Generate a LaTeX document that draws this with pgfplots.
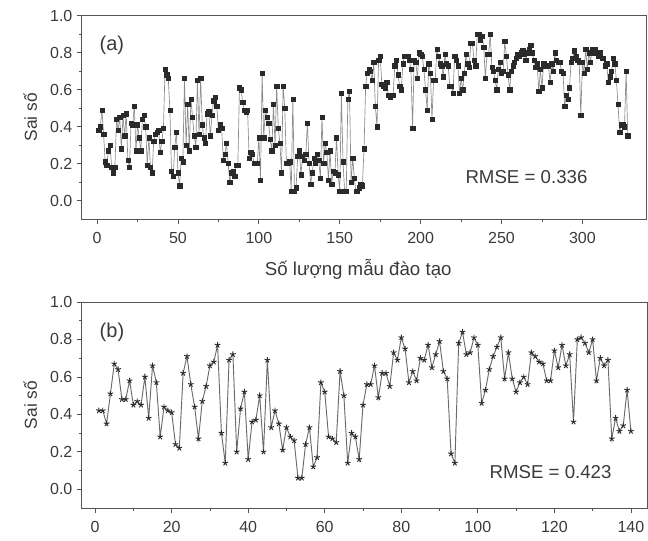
\documentclass[border=0pt]{standalone}
\usepackage{fontspec}
\setmainfont{Liberation Sans}
\usepackage{pgfplots}
\usepackage{pgfplotstable}
\pgfplotsset{compat=1.18}
\definecolor{inkgray}{HTML}{3A3A3A}
\definecolor{axisgray}{HTML}{555555}
\definecolor{markgray}{HTML}{2A2A2A}
\definecolor{linegray}{HTML}{8C8C8C}
\definecolor{starline}{HTML}{6A6A6A}

% panel (a): error per training sample
\pgfplotstableread{
x y
1 0.38
2 0.40
3 0.49
4 0.36
5 0.21
6 0.19
7 0.27
8 0.30
9 0.18
10 0.15
11 0.18
12 0.44
13 0.38
14 0.45
15 0.28
16 0.46
17 0.35
18 0.47
19 0.22
20 0.18
21 0.42
22 0.41
23 0.51
24 0.27
25 0.41
26 0.34
27 0.27
28 0.44
29 0.46
30 0.40
31 0.19
32 0.34
33 0.18
34 0.15
35 0.32
36 0.36
37 0.37
38 0.38
39 0.26
40 0.32
41 0.39
42 0.71
43 0.68
44 0.66
45 0.49
46 0.16
47 0.13
48 0.29
49 0.37
50 0.15
51 0.08
52 0.23
53 0.21
54 0.66
55 0.30
56 0.52
57 0.27
58 0.55
59 0.45
60 0.35
61 0.29
62 0.65
63 0.36
64 0.66
65 0.41
66 0.34
67 0.31
68 0.47
69 0.48
70 0.35
71 0.46
72 0.54
73 0.56
74 0.51
75 0.38
76 0.41
77 0.39
78 0.22
79 0.25
80 0.31
81 0.20
82 0.10
83 0.15
84 0.16
85 0.13
86 0.19
87 0.19
88 0.61
89 0.60
90 0.53
91 0.49
92 0.48
93 0.49
94 0.23
95 0.26
96 0.25
97 0.20
98 0.20
99 0.20
100 0.34
101 0.11
102 0.69
103 0.34
104 0.49
105 0.45
106 0.42
107 0.33
108 0.27
109 0.52
110 0.30
111 0.62
112 0.39
113 0.31
114 0.15
115 0.62
116 0.50
117 0.20
118 0.20
119 0.21
120 0.05
121 0.55
122 0.05
123 0.07
124 0.24
125 0.27
126 0.14
127 0.24
128 0.22
129 0.25
130 0.42
131 0.20
132 0.09
133 0.15
134 0.23
135 0.20
136 0.25
137 0.22
138 0.12
139 0.45
140 0.20
141 0.31
142 0.26
143 0.11
144 0.27
145 0.09
146 0.16
147 0.15
148 0.34
149 0.14
150 0.05
151 0.58
152 0.21
153 0.05
154 0.05
155 0.55
156 0.59
157 0.10
158 0.23
159 0.12
160 0.05
161 0.05
162 0.07
163 0.09
164 0.08
165 0.28
166 0.62
167 0.69
168 0.71
169 0.70
170 0.65
171 0.75
172 0.51
173 0.40
174 0.76
175 0.78
176 0.63
177 0.62
178 0.61
179 0.64
180 0.57
181 0.56
182 0.57
183 0.57
184 0.73
185 0.76
186 0.68
187 0.62
188 0.60
189 0.74
190 0.78
191 0.78
192 0.78
193 0.76
194 0.71
195 0.39
196 0.76
197 0.75
198 0.66
199 0.80
200 0.79
201 0.78
202 0.71
203 0.60
204 0.49
205 0.74
206 0.69
207 0.44
208 0.65
209 0.65
210 0.82
211 0.78
212 0.74
213 0.73
214 0.67
215 0.79
216 0.74
217 0.73
218 0.62
219 0.62
220 0.58
221 0.78
222 0.76
223 0.73
224 0.58
225 0.66
226 0.60
227 0.69
228 0.79
229 0.74
230 0.72
231 0.85
232 0.85
233 0.76
234 0.73
235 0.90
236 0.90
237 0.87
238 0.89
239 0.83
240 0.66
241 0.79
242 0.79
243 0.90
244 0.72
245 0.70
246 0.65
247 0.60
248 0.71
249 0.75
250 0.69
251 0.70
252 0.86
253 0.78
254 0.68
255 0.60
256 0.70
257 0.73
258 0.75
259 0.77
260 0.79
261 0.78
262 0.80
263 0.81
264 0.79
265 0.76
266 0.80
267 0.82
268 0.84
269 0.80
270 0.76
271 0.72
272 0.74
273 0.59
274 0.71
275 0.61
276 0.74
277 0.73
278 0.73
279 0.73
280 0.64
281 0.74
282 0.70
283 0.80
284 0.76
285 0.75
286 0.75
287 0.70
288 0.69
289 0.51
290 0.57
291 0.55
292 0.61
293 0.75
294 0.77
295 0.81
296 0.78
297 0.76
298 0.75
299 0.46
300 0.75
301 0.69
302 0.82
303 0.71
304 0.80
305 0.75
306 0.82
307 0.80
308 0.82
309 0.80
310 0.78
311 0.80
312 0.77
313 0.77
314 0.73
315 0.74
316 0.64
317 0.67
318 0.70
319 0.77
320 0.74
321 0.65
322 0.52
323 0.37
324 0.41
325 0.41
326 0.40
327 0.70
328 0.35
}\sampleA

% panel (b)
\pgfplotstableread{
x y
1 0.42
2 0.42
3 0.35
4 0.51
5 0.67
6 0.64
7 0.48
8 0.48
9 0.58
10 0.45
11 0.47
12 0.45
13 0.60
14 0.38
15 0.66
16 0.57
17 0.28
18 0.44
19 0.42
20 0.41
21 0.24
22 0.22
23 0.62
24 0.71
25 0.56
26 0.44
27 0.27
28 0.47
29 0.55
30 0.66
31 0.68
32 0.77
33 0.30
34 0.14
35 0.69
36 0.72
37 0.20
38 0.43
39 0.52
40 0.16
41 0.36
42 0.37
43 0.50
44 0.20
45 0.69
46 0.33
47 0.42
48 0.35
49 0.21
50 0.33
51 0.28
52 0.26
53 0.06
54 0.06
55 0.24
56 0.33
57 0.12
58 0.17
59 0.57
60 0.52
61 0.28
62 0.27
63 0.25
64 0.63
65 0.50
66 0.14
67 0.30
68 0.28
69 0.16
70 0.45
71 0.56
72 0.56
73 0.66
74 0.49
75 0.62
76 0.62
77 0.55
78 0.73
79 0.69
80 0.81
81 0.75
82 0.57
83 0.63
84 0.58
85 0.70
86 0.69
87 0.77
88 0.65
89 0.72
90 0.79
91 0.63
92 0.59
93 0.19
94 0.14
95 0.78
96 0.84
97 0.72
98 0.73
99 0.81
100 0.77
101 0.46
102 0.53
103 0.64
104 0.71
105 0.76
106 0.81
107 0.59
108 0.73
109 0.59
110 0.52
111 0.57
112 0.60
113 0.56
114 0.73
115 0.71
116 0.68
117 0.67
118 0.58
119 0.58
120 0.74
121 0.65
122 0.77
123 0.66
124 0.72
125 0.36
126 0.80
127 0.81
128 0.78
129 0.73
130 0.80
131 0.58
132 0.70
133 0.66
134 0.69
135 0.27
136 0.38
137 0.31
138 0.34
139 0.53
140 0.31
}\sampleB

\begin{document}
\begin{tikzpicture}
\useasboundingbox (0,0) rectangle (486pt,405.75pt);
\pgfplotsset{panel/.style={scale only axis,anchor=south west,
  ymin=-0.1,ymax=1.0,ytick={0,0.2,...,1.0},minor y tick num=1,minor x tick num=1,
  tick align=outside,xtick pos=left,ytick pos=left,
  major tick length=3.5pt,minor tick length=2pt,
  axis line style={draw=axisgray,line width=0.6pt},
  every tick/.style={draw=axisgray,line width=0.6pt},
  yticklabel style={/pgf/number format/.cd,fixed,fixed zerofill,precision=1},
  /pgf/number format/assume math mode=true,
  tick label style={font=\fontsize{12}{14}\selectfont,text=inkgray},
  xticklabel style={yshift=-3pt},
  label style={font=\fontsize{13}{15}\selectfont,text=inkgray},
  ylabel style={at={(axis description cs:0,0.5)},anchor=center,yshift=38.5pt},
  clip=false}}
\begin{axis}[panel,at={(61.3pt,241.5pt)},width=423.2pt,height=152.5pt,
  xmin=-9.5,xmax=339.3,xtick={0,50,...,300},
  ylabel={Sai số},xlabel={Số lượng mẫu đào tạo},
  xlabel style={at={(axis description cs:0.49,0)},anchor=center,yshift=-38pt,font=\fontsize{14}{16}\selectfont}]
\addplot[draw=linegray,line width=0.5pt,mark=square*,mark size=1.6pt,
  mark options={fill=markgray,draw=markgray,line width=0.3pt}] table[x=x,y=y] {\sampleA};
\node[font=\fontsize{15}{17}\selectfont,text=inkgray] at (axis cs:9.1,0.84) {(a)};
\node[font=\fontsize{14}{16}\selectfont,text=inkgray] at (axis cs:265.4,0.126) {RMSE = 0.336};
\end{axis}
\begin{axis}[panel,at={(61.3pt,24.75pt)},width=424.5pt,height=154.5pt,
  xmin=-3.5,xmax=144.4,xtick={0,20,...,140},
  ylabel={Sai số}]
\addplot[draw=starline,line width=0.7pt,mark=star,mark size=2.2pt,
  mark options={draw=markgray,line width=0.7pt}] table[x=x,y=y] {\sampleB};
\node[font=\fontsize{15}{17}\selectfont,text=inkgray] at (axis cs:4.4,0.84) {(b)};
\node[font=\fontsize{14}{16}\selectfont,text=inkgray] at (axis cs:119,0.09) {RMSE = 0.423};
\end{axis}
\end{tikzpicture}
\end{document}
